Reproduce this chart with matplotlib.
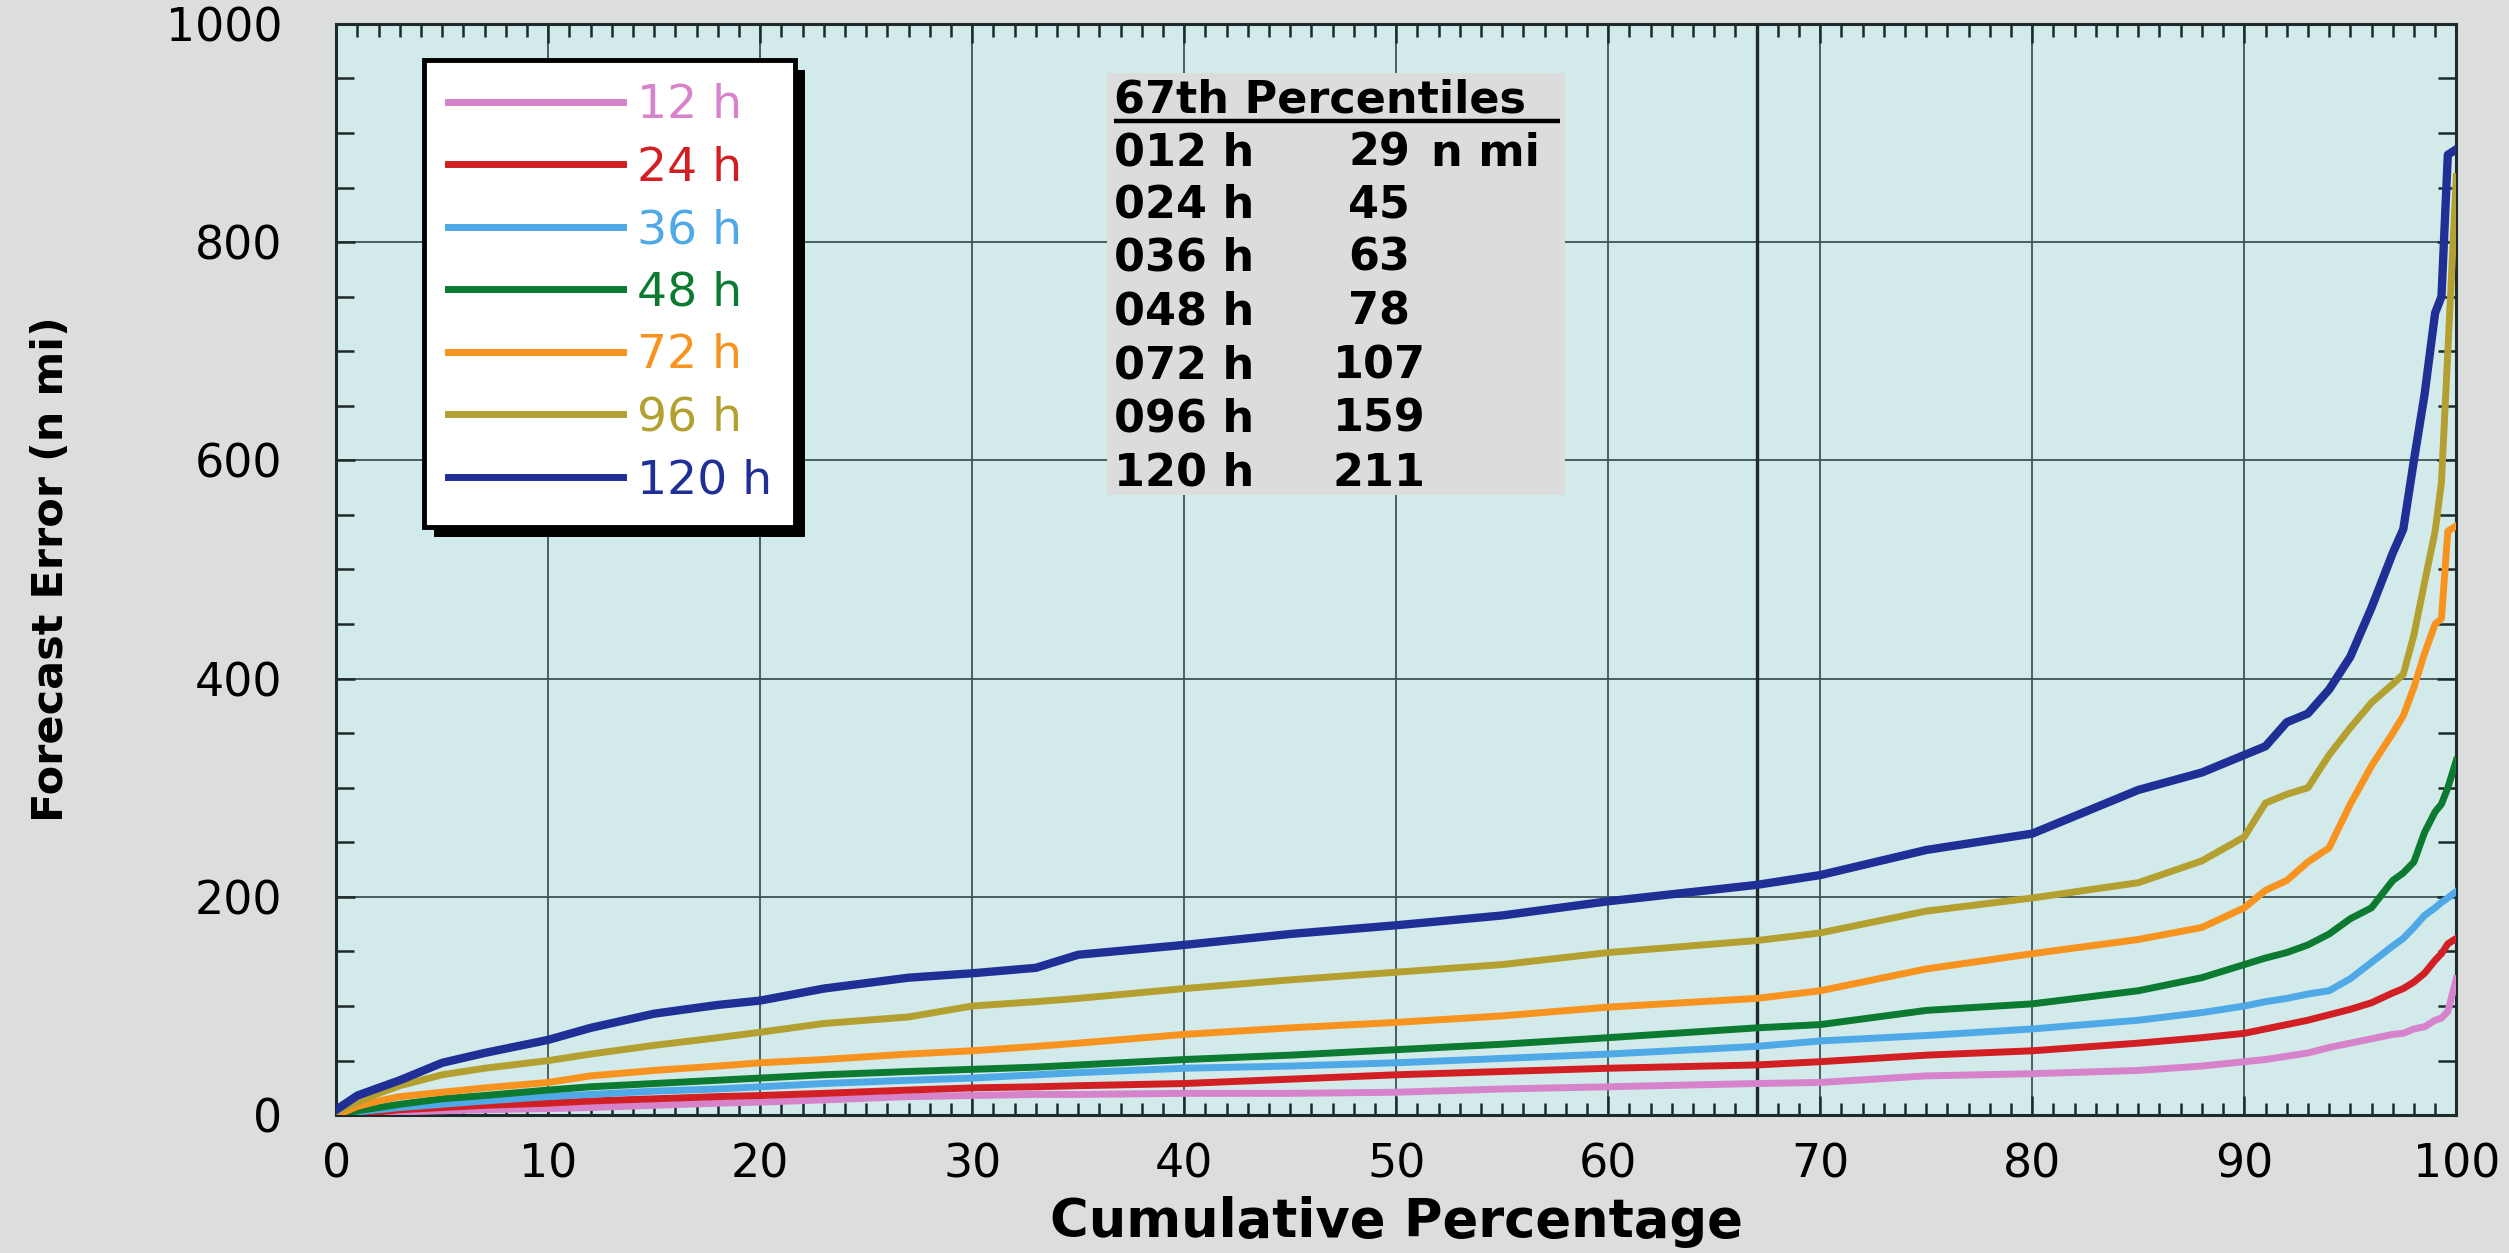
import numpy as np
import matplotlib
matplotlib.use("Agg")
import matplotlib.pyplot as plt
import matplotlib.patheffects as pe
from matplotlib.patches import Rectangle
from matplotlib.ticker import MultipleLocator

# cumulative percentage where the curves were read
pct = [0, 1, 2, 3, 5, 7, 10, 12, 15, 18, 20, 23, 27, 30, 33, 35, 40, 45, 50, 55, 60,
       67, 70, 75, 80, 85, 88, 90, 91, 92, 93, 94, 95, 96, 97, 97.5, 98, 98.5, 99,
       99.3, 99.6, 100]

err_12 = [0, 1, 2, 3, 4, 5, 6, 7, 9, 11, 12, 14, 17, 18, 19, 19, 20, 20, 21, 24, 26,
          29, 30, 36, 38, 41, 45, 49, 51, 54, 57, 62, 66, 70, 74, 75, 79, 81, 87,
          89, 95, 125]
err_24 = [0, 2, 3, 5, 7, 9, 11, 13, 15, 17, 18, 20, 23, 25, 26, 27, 29, 33, 37, 40, 43,
          46, 49, 55, 59, 66, 71, 75, 79, 83, 87, 92, 97, 103, 112, 116, 122, 130, 142,
          148, 157, 162]
err_36 = [0, 3, 5, 7, 10, 13, 17, 19, 22, 24, 26, 29, 32, 34, 37, 39, 43, 45, 48, 52, 56,
          63, 68, 73, 79, 87, 94, 100, 104, 107, 111, 114, 125, 140, 155, 162, 172, 183, 190,
          195, 199, 205]
err_48 = [0, 4, 7, 10, 15, 18, 23, 26, 29, 32, 34, 37, 40, 42, 44, 46, 51, 55, 60, 65, 71,
          80, 83, 96, 102, 114, 126, 138, 144, 149, 156, 166, 180, 190, 215, 222, 232, 259, 278,
          285, 300, 325]
err_72 = [0, 8, 13, 17, 21, 25, 30, 36, 41, 45, 48, 51, 56, 59, 63, 66, 74, 80, 85, 91, 99,
          107, 114, 134, 148, 161, 172, 190, 206, 215, 232, 245, 285, 320, 350, 366, 392, 423, 450,
          455, 535, 540]
err_96 = [3, 12, 20, 27, 37, 43, 50, 56, 64, 71, 76, 84, 90, 100, 104, 107, 116, 124, 131, 138, 149,
          160, 167, 187, 199, 213, 233, 255, 286, 294, 300, 330, 355, 378, 395, 404, 440, 488, 535,
          580, 700, 860]
err_120 = [5, 18, 25, 32, 48, 57, 69, 80, 93, 101, 105, 116, 126, 130, 135, 147, 156, 166, 174, 183, 196,
           211, 220, 243, 258, 298, 314, 330, 338, 360, 368, 390, 420, 465, 515, 537, 600, 660, 735,
           750, 880, 885]

labels = ["12 h", "24 h", "36 h", "48 h", "72 h", "96 h", "120 h"]
colors = ["#d783cc", "#d21f24", "#4fa9e6", "#0c7a30", "#f7931e", "#b3a031", "#1f2f96"]

# 67th percentile table
pctl_hours = ["012 h", "024 h", "036 h", "048 h", "072 h", "096 h", "120 h"]
pctl_vals = ["29", "45", "63", "78", "107", "159", "211"]

fig = plt.figure(figsize=(25.09, 12.53), dpi=100, facecolor="#dcdddd")
ax = fig.add_axes([0.134, 0.110, 0.845, 0.871])
ax.set_facecolor("#d2eaea")

series = [err_12, err_24, err_36, err_48, err_72, err_96, err_120]
for s, lab, c in zip(series, labels, colors):
    lw = 6 if lab == "120 h" else 5
    ax.plot(pct, s, color=c, lw=lw, label=lab, zorder=3)

ax.set_xlim(0, 100)
ax.set_ylim(0, 1000)
ax.xaxis.set_major_locator(MultipleLocator(10))
ax.xaxis.set_minor_locator(MultipleLocator(1))
ax.yaxis.set_major_locator(MultipleLocator(200))
ax.yaxis.set_minor_locator(MultipleLocator(50))
ax.grid(True, which="major", color="#3e5454", lw=1.3, zorder=1)
ax.axvline(67, color="#1c2a2a", lw=2.4, zorder=2)

ax.tick_params(which="both", direction="in", top=True, right=True,
               color="#1c2a2a", width=1.8)
ax.tick_params(which="major", length=14)
ax.tick_params(which="minor", length=9)
ax.tick_params(axis="y", which="minor", length=13)
ax.tick_params(axis="x", labelsize=33, pad=20)
ax.tick_params(axis="y", labelsize=33, pad=39)
for t in ax.get_xticklabels() + ax.get_yticklabels():
    t.set_family("DejaVu Sans")
for sp in ax.spines.values():
    sp.set_color("#1c2a2a")
    sp.set_linewidth(2.2)

ax.set_xlabel("Cumulative Percentage", fontsize=38, fontweight="bold", family="DejaVu Sans")
ax.set_ylabel("Forecast Error (n mi)", fontsize=31, fontweight="bold", family="DejaVu Sans")
ax.xaxis.set_label_coords(0.5, -0.074)
ax.yaxis.set_label_coords(-0.1245, 0.5)

# legend with black drop shadow
leg = ax.legend(loc="upper left", bbox_to_anchor=(0.0415, 0.967), borderaxespad=0,
                labelcolor="linecolor", handlelength=3.7, handletextpad=0.3,
                labelspacing=0.37, borderpad=0.5, fancybox=False, framealpha=1,
                edgecolor="black", facecolor="white",
                prop={"family": "DejaVu Sans", "size": 34})
leg.get_frame().set_linewidth(3.5)
leg.get_frame().set_path_effects([pe.SimplePatchShadow(offset=(7, -7), shadow_rgbFace="black",
                                                       alpha=1), pe.Normal()])
for line in leg.get_lines():
    line.set_linewidth(5)
leg.set_zorder(6)

# percentile table
ax.add_patch(Rectangle((0.3637, 0.568), 0.216, 0.387, transform=ax.transAxes,
                       facecolor="#dcdcdc", edgecolor="none", zorder=5))
tkw = dict(transform=ax.transAxes, fontsize=32, fontweight="bold", family="DejaVu Sans",
           va="baseline", zorder=6)
ax.text(0.367, 0.919, "67th Percentiles", ha="left", **tkw)
ax.plot([0.367, 0.577], [0.911, 0.911], transform=ax.transAxes, color="black", lw=3.2,
        zorder=6, solid_capstyle="butt")
row_y = [0.8698, 0.8222, 0.7736, 0.7241, 0.6746, 0.6260, 0.5765]
for h, v, y in zip(pctl_hours, pctl_vals, row_y):
    ax.text(0.367, y, h, ha="left", **tkw)
    ax.text(0.492, y, v, ha="center", **tkw)
ax.text(0.5165, row_y[0], "n mi", ha="left", **tkw)

fig.savefig("out.png", dpi=100, facecolor=fig.get_facecolor())
